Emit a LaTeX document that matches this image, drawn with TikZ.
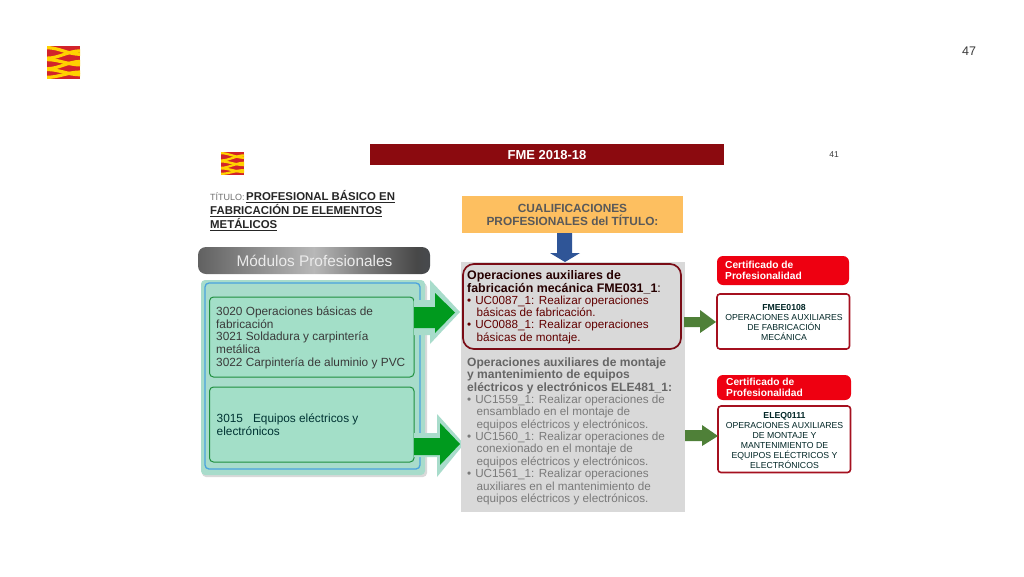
\documentclass[tikz,border=0pt]{standalone}
\usepackage{fontspec}
\setmainfont{Liberation Sans}
\definecolor{wine}{HTML}{8B0A0F}
\definecolor{frame}{HTML}{7A0C16}
\definecolor{halo}{HTML}{A8DCCB}
\definecolor{boxgreen}{HTML}{A3DFC8}
\definecolor{edgegreen}{HTML}{1F8F3F}
\definecolor{arrowgreen}{HTML}{009A1E}
\definecolor{olive}{HTML}{4F8038}
\definecolor{skyblue}{HTML}{4AA3DE}
\definecolor{navy}{HTML}{2F5597}
\definecolor{orangebox}{HTML}{FDBF60}
\definecolor{panel}{HTML}{D9D9D9}
\definecolor{certred}{HTML}{EE0011}
\definecolor{certline}{HTML}{A5101F}
\definecolor{logored}{HTML}{D2232A}
\definecolor{logoyel}{HTML}{FFD200}
\definecolor{txtdark}{HTML}{3A3A3A}
\definecolor{txtgrey}{HTML}{707070}
\definecolor{slate}{HTML}{46546A}
\pgfdeclarehorizontalshading{bannershade}{100bp}{
  color(0bp)=(black!68);
  color(25bp)=(black!62);
  color(50bp)=(black!28);
  color(60bp)=(black!50);
  color(72bp)=(black!72);
  color(88bp)=(slate);
  color(100bp)=(slate)}
\tikzset{
  lines/.style={inner sep=0pt,anchor=north west,align=left},
  module/.style={draw=edgegreen,line width=1pt,fill=boxgreen,rounded corners=4pt},
  certhead/.style={fill=certred,rounded corners=6pt,draw=none},
  certbox/.style={draw=certline,line width=1.6pt,fill=white,rounded corners=3pt},
  certtext/.style={inner sep=0pt,align=center,text=black!70!teal,font=\fontsize{8.7}{10}\selectfont},
  certlabel/.style={lines,text=white,font=\fontsize{10.2}{11.2}\selectfont\bfseries},
}
\newcommand{\logoband}[2]{\fill[logoyel] (0,#1) .. controls (.35,#1) and (.65,#2) .. (1,#2) -- (1,#2+.1) .. controls (.65,#2+.1) and (.35,#1+.1) .. (0,#1+.1) -- cycle;}
\newcommand{\logoflag}[4]{% x y w h
  \begin{scope}[shift={(#1,#2)},x=#3pt,y=-#4pt]
    \fill[logored] (0,0) rectangle (1,1);
    \logoband{0}{.2}
    \logoband{.32}{.1}
    \logoband{.36}{.52}
    \logoband{.64}{.42}
    \logoband{.66}{.82}
    \logoband{.9}{.74}
  \end{scope}}
\begin{document}
\begin{tikzpicture}[x=1pt,y=-1pt]
\useasboundingbox (0,0) rectangle (1024,576);
\fill[white] (0,0) rectangle (1024,576);
\logoflag{47}{46}{33}{33}
\logoflag{221}{152}{23}{23}
\node[inner sep=0pt,font=\fontsize{12.5}{15}\selectfont,text=txtdark] (page) at (969,51) {47};
\node[inner sep=0pt,font=\fontsize{8.5}{10}\selectfont,text=txtdark] (sub) at (834,155) {41};

% header
\fill[wine] (370,144) rectangle (724,165);
\node[inner sep=0pt,text=white,font=\fontsize{13}{15}\selectfont\bfseries] (head) at (547,155) {FME 2018-18};

% title
\node[lines,font=\fontsize{11.4}{14.2}\selectfont\bfseries,text=black!85] (title) at (210,190)
 {{\fontsize{9}{14.2}\selectfont\mdseries\color{txtgrey}TÍTULO:}\hspace{1.5pt}\underline{PROFESIONAL BÁSICO EN}\\
  \underline{FABRICACIÓN DE ELEMENTOS}\\
  \underline{METÁLICOS}};

% modules banner
\shade[rounded corners=8pt,shading=bannershade] (198,247) rectangle (430,274);
\node[inner sep=0pt,text=white!92!black,font=\fontsize{15.4}{18}\selectfont] (mp) at (314.5,260.5) {Módulos Profesionales};

% module panel
\fill[black!15,rounded corners=4pt] (202,283) rectangle (427,477);
\fill[halo,rounded corners=4pt] (201,280) rectangle (425,475);
\draw[skyblue,line width=1.3pt,rounded corners=4pt] (205,283) rectangle (420,469);
\draw[module] (209.5,297) rectangle (414,377);
\draw[module] (209.5,387) rectangle (414,462);
\node[lines,font=\fontsize{11.85}{12.65}\selectfont,text=txtdark] (m1) at (216,306.5)
 {3020 Operaciones básicas de\\fabricación\\3021 Soldadura y carpintería\\metálica\\3022 Carpintería de aluminio y PVC};
\node[lines,font=\fontsize{11.85}{12.65}\selectfont,text=black!60!teal] (m2) at (216.5,413.5)
 {3015\hspace{10pt}Equipos eléctricos y\\electrónicos};

% big arrows halo
\fill[halo] (414,300) -- (430,300) -- (430,280) -- (460,312) -- (430,344) -- (430,335) -- (414,335) -- cycle;
\fill[halo] (414,433) -- (437,433) -- (437,414) -- (464,444) -- (437,477) -- (437,457) -- (414,457) -- cycle;
\fill[arrowgreen] (414,307) -- (435,307) -- (435,293) -- (455,312.5) -- (435,333) -- (435,328) -- (414,328) -- cycle;
\fill[arrowgreen] (414,438) -- (440,438) -- (440,423) -- (460,444) -- (440,465) -- (440,455) -- (414,455) -- cycle;

% qualifications
\node[fill=orangebox,minimum width=221pt,minimum height=37pt,inner sep=0pt,align=center,
  text=black!65,font=\fontsize{11.85}{13}\selectfont\bfseries] (qual) at (572.5,214.5)
  {CUALIFICACIONES\\PROFESIONALES del TÍTULO:};
\fill[panel] (461,262) rectangle (685,512);
\fill[navy] (557,233) -- (572,233) -- (572,253) -- (580,253) -- (565,262) -- (550,253) -- (557,253) -- cycle;
\draw[frame,line width=1.7pt,rounded corners=11pt] (463,264) rectangle (681,349);

\node[lines,text=black!85!red,font=\fontsize{12.4}{12.6}\selectfont] (q1) at (467,270.5)
 {\textbf{Operaciones auxiliares de}\\\textbf{fabricación mecánica FME031\_1}:};
\node[lines,text=black!62!red,font=\fontsize{11.7}{12.4}\selectfont] (q1b) at (467,295.5)
 {•\hspace{4pt}UC0087\_1: Realizar operaciones\\
  \hspace*{9.5pt}básicas de fabricación.\\
  •\hspace{4pt}UC0088\_1: Realizar operaciones\\
  \hspace*{9.5pt}básicas de montaje.};
\node[lines,text=black!60,font=\fontsize{12.05}{12.5}\selectfont\bfseries] (q2) at (467,357.5)
 {Operaciones auxiliares de montaje\\y mantenimiento de equipos\\eléctricos y electrónicos ELE481\_1:};
\node[lines,text=black!52,font=\fontsize{11.7}{12.45}\selectfont] (q2b) at (467,394.5)
 {•\hspace{4pt}UC1559\_1: Realizar operaciones de\\
  \hspace*{9.5pt}ensamblado en el montaje de\\
  \hspace*{9.5pt}equipos eléctricos y electrónicos.\\
  •\hspace{4pt}UC1560\_1: Realizar operaciones de\\
  \hspace*{9.5pt}conexionado en el montaje de\\
  \hspace*{9.5pt}equipos eléctricos y electrónicos.\\
  •\hspace{4pt}UC1561\_1: Realizar operaciones\\
  \hspace*{9.5pt}auxiliares en el mantenimiento de\\
  \hspace*{9.5pt}equipos eléctricos y electrónicos.};

% certificates
\fill[certhead] (717,256) rectangle (849,285);
\node[certlabel] (c1h) at (725,261) {Certificado de\\Profesionalidad};
\fill[certhead] (717,375) rectangle (851,400);
\node[certlabel] (c2h) at (726,378) {Certificado de\\Profesionalidad};
\draw[certbox] (717,294) rectangle (849.5,349);
\draw[certbox] (718,406) rectangle (850.5,472.5);
\node[certtext] (c1) at (784,322) {\textbf{FMEE0108}\\OPERACIONES AUXILIARES\\DE FABRICACIÓN\\MECÁNICA};
\node[certtext] (c2) at (784.5,440) {\textbf{ELEQ0111}\\OPERACIONES AUXILIARES\\DE MONTAJE Y\\MANTENIMIENTO DE\\EQUIPOS ELÉCTRICOS Y\\ELECTRÓNICOS};

% olive arrows
\fill[olive] (684,317) -- (700,317) -- (700,310) -- (716,322) -- (700,333) -- (700,327) -- (684,327) -- cycle;
\fill[olive] (685,430) -- (702,430) -- (702,425) -- (718,436) -- (702,446) -- (702,441) -- (685,441) -- cycle;
\end{tikzpicture}
\end{document}
